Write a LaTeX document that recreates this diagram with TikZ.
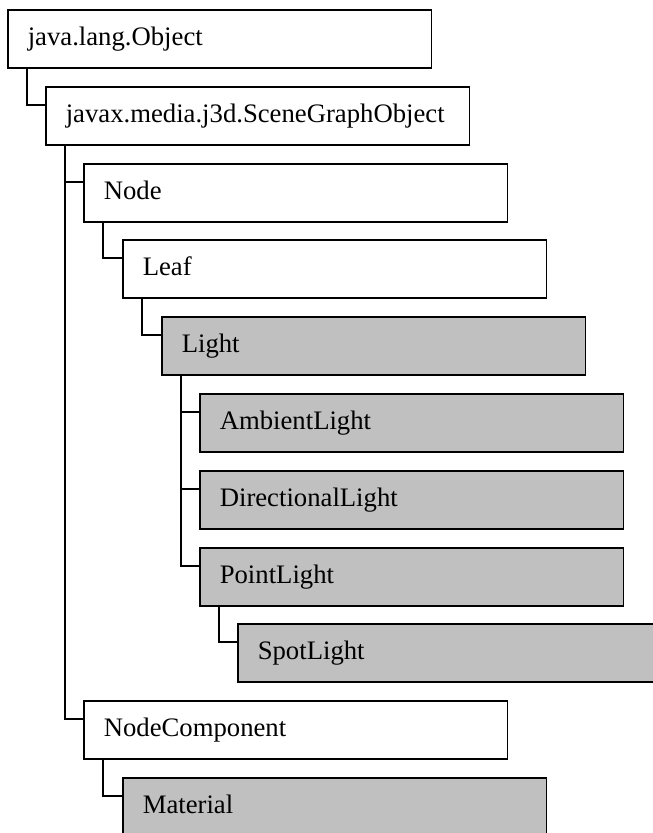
\documentclass[tikz,border=0pt]{standalone}
\usepackage{fontspec}
\setmainfont{Liberation Serif}
\usepackage{tikz}
\definecolor{lightgray}{HTML}{C0C0C0}
\tikzset{
  classbox/.style={draw, line width=1.6pt, rectangle, anchor=north west, fill=white,
    minimum height=58pt, text width=383.5pt, inner xsep=20pt, inner ysep=0pt,
    align=left, text height=19pt, text depth=5pt,
    font=\fontsize{26.7pt}{32pt}\selectfont},
  jbox/.style={classbox, fill=lightgray},
  link/.style={line width=1.6pt}
}
\begin{document}
\begin{tikzpicture}[x=1pt, y=-1pt]
  \useasboundingbox (0,0) rectangle (653,833);
  \node[classbox] (object) at (7,9) {java.lang.Object};
  \node[classbox] (sgo) at (45,86) {javax.media.j3d.SceneGraphObject};
  \node[classbox] (node) at (83,163) {Node};
  \node[classbox] (leaf) at (122,239) {Leaf};
  \node[jbox] (light) at (161,316) {Light};
  \node[jbox] (ambient) at (199,393) {AmbientLight};
  \node[jbox] (directional) at (199,470) {DirectionalLight};
  \node[jbox] (point) at (199,547) {PointLight};
  \node[jbox] (spot) at (237,623) {SpotLight};
  \node[classbox] (nodecomp) at (83,700) {NodeComponent};
  \node[jbox] (material) at (122,777) {Material};
  \draw[link] ([xshift=20pt]object.south west) |- ([yshift=-19pt]sgo.north west);
  \draw[link] ([xshift=20pt]sgo.south west) |- ([yshift=-19pt]node.north west);
  \draw[link] ([xshift=20pt]sgo.south west) |- ([yshift=-19pt]nodecomp.north west);
  \draw[link] ([xshift=20pt]node.south west) |- ([yshift=-19pt]leaf.north west);
  \draw[link] ([xshift=20pt]leaf.south west) |- ([yshift=-19pt]light.north west);
  \foreach \c in {ambient, directional, point}
    \draw[link] ([xshift=20pt]light.south west) |- ([yshift=-19pt]\c.north west);
  \draw[link] ([xshift=20pt]point.south west) |- ([yshift=-19pt]spot.north west);
  \draw[link] ([xshift=20pt]nodecomp.south west) |- ([yshift=-19pt]material.north west);
\end{tikzpicture}
\end{document}
